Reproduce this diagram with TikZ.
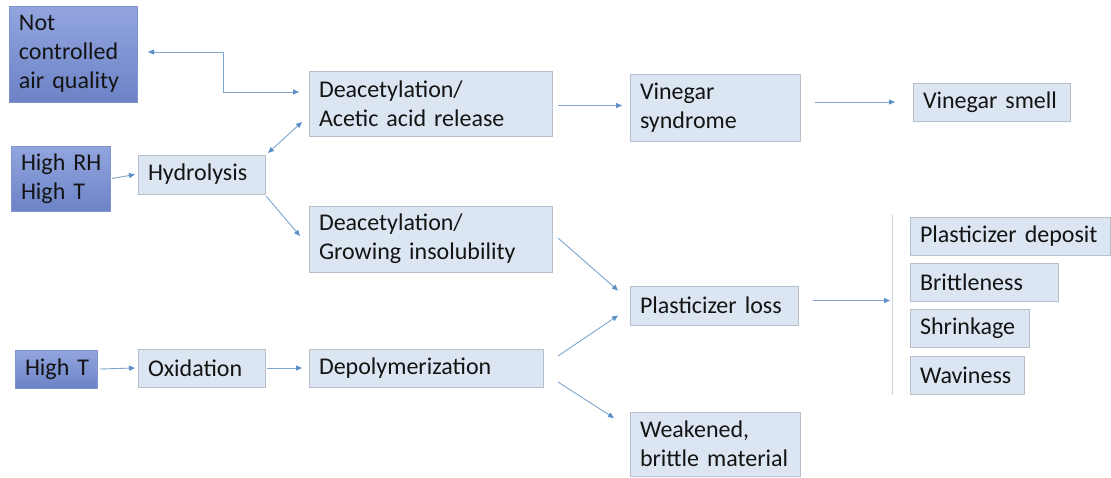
\documentclass[tikz,border=0pt]{standalone}
\usepackage{fontspec}
\setmainfont{Carlito}
\usetikzlibrary{arrows.meta,calc}
\definecolor{lightfill}{HTML}{DCE6F2}
\definecolor{lightborder}{HTML}{B7BFCA}
\definecolor{darktop}{HTML}{92A5DE}
\definecolor{darkbot}{HTML}{6C83C7}
\definecolor{darkborder}{HTML}{8193CA}
\definecolor{linecol}{HTML}{7FA6CE}
\definecolor{tipcol}{HTML}{5B8FC8}
\definecolor{barcol}{HTML}{C9D2DE}
\definecolor{textcol}{HTML}{141414}
\begin{document}
\begin{tikzpicture}[x=1pt,y=-1pt,
  box/.style={anchor=north west, outer sep=0pt, line width=0.8pt, inner xsep=10pt, inner ysep=0pt,
    align=left, font=\fontsize{24}{29}\selectfont, text=textcol},
  lb/.style={box, fill=lightfill, draw=lightborder},
  db/.style={box, top color=darktop, bottom color=darkbot, draw=darkborder},
  conn/.style={draw=linecol, line width=0.9pt, -{Triangle[length=6pt,width=5pt,color=tipcol]}},
  dconn/.style={draw=linecol, line width=0.9pt, {Triangle[length=6pt,width=5pt,color=tipcol]}-{Triangle[length=6pt,width=5pt,color=tipcol]}}
]
\useasboundingbox (0,0) rectangle (1111,477);
\fill[white] (0,0) rectangle (1111,477);

\node[db, text width=108pt, minimum height=96pt] (nc) at (9,6) {Not\\\mbox{controlled}\\\mbox{air quality}};
\node[db, text width=79pt, minimum height=65pt] (hr) at (11,146) {\mbox{High RH}\\\mbox{High T}};
\node[lb, text width=107pt, minimum height=39pt] (hy) at (138,155) {Hydrolysis};
\node[lb, text width=223pt, minimum height=65pt] (da) at (309,71) {Deacetylation/\\\mbox{Acetic acid release}};
\node[lb, text width=150pt, minimum height=67pt] (vs) at (630,74) {Vinegar\\syndrome};
\node[lb, text width=137pt, minimum height=38pt] (sm) at (913,83) {\mbox{Vinegar smell}};
\node[lb, text width=223pt, minimum height=66pt] (dg) at (309,206) {Deacetylation/\\\mbox{Growing insolubility}};
\node[lb, text width=148pt, minimum height=39pt] (pl) at (630,286) {\mbox{Plasticizer loss}};
\node[lb, text width=180pt, minimum height=38pt] (pd) at (910,217) {\mbox{Plasticizer deposit}};
\node[lb, text width=128pt, minimum height=38pt] (br) at (910,263) {Brittleness};
\node[lb, text width=99pt, minimum height=38pt] (sh) at (910,309) {Shrinkage};
\node[lb, text width=94pt, minimum height=38pt] (wv) at (910,356) {Waviness};
\node[db, text width=62pt, minimum height=38pt] (ht) at (15,350) {\mbox{High T}};
\node[lb, text width=107pt, minimum height=38pt] (ox) at (138,349) {Oxidation};
\node[lb, text width=214pt, minimum height=38pt] (dp) at (309,349) {Depolymerization};
\node[lb, text width=150pt, minimum height=64pt] (wk) at (630,412) {Weakened,\\\mbox{brittle material}};

\coordinate (bt) at (892,215);
\coordinate (bb) at (892,395);
\draw[barcol, line width=0.9pt] (bt) -- (bb);

\draw[dconn] ($(nc.east)+(11,-2)$) -- ++(75,0) |- ($(da.west)+(-10,-11.5)$);
\draw[dconn] ($(hy.north east)+(3,-2)$) -- ($(da.south west)+(-7,-14)$);
\draw[conn] ($(hr.east)+(2,0)$) -- ($(hy.west)+(-3,0)$);
\draw[conn] ($(hy.south east)+(1,2)$) -- ($(dg.north west)+(-9,30)$);
\draw[conn] ($(da.east)+(6,2)$) -- ($(vs.west |- da.east)+(-8,2)$);
\draw[conn] ($(vs.east |- sm.west)+(15,0)$) -- ($(sm.west)+(-18,0)$);
\draw[conn] ($(dg.east)+(6,-1)$) -- ($(pl.west)+(-12,-15)$);
\draw[conn] ($(dp.north east)+(15,7)$) -- ($(pl.west)+(-12,10)$);
\draw[conn] ($(dp.south east)+(15,-5)$) -- ($(wk.north west)+(-16,6)$);
\draw[conn] ($(pl.east)+(15,-5)$) -- ($(bt |- pl.east)+(-2,-5)$);
\draw[conn] ($(ht.east)+(3,0)$) -- ($(ox.west)+(-3,0)$);
\draw[conn] ($(ox.east)+(2,0)$) -- ($(dp.west)+(-7,0)$);
\end{tikzpicture}
\end{document}
